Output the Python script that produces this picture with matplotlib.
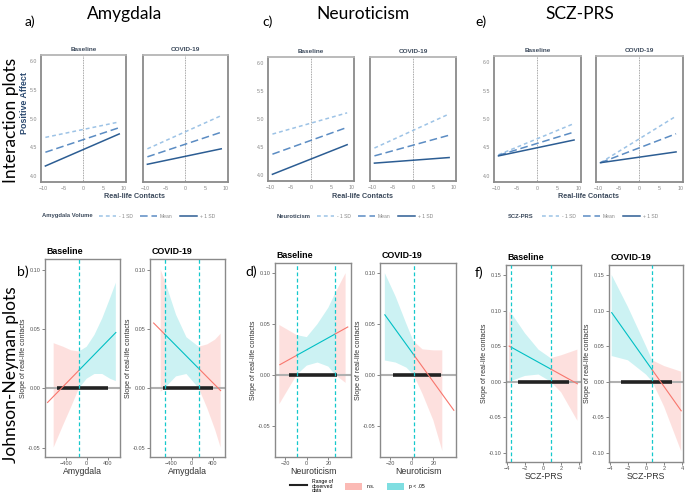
import numpy as np
import matplotlib
matplotlib.use('Agg')
import matplotlib.pyplot as plt
from matplotlib.lines import Line2D
from matplotlib.patches import Patch

plt.rcParams['font.family'] = ['Liberation Sans', 'DejaVu Sans']

W, H = 685, 493

# ---- interaction plots: predicted positive affect at x = -9.5 and x = 9 ----
contacts = [-9.5, 9]
sd_levels = ['- 1 SD', 'Mean', '+ 1 SD']
int_amyg_base = {'- 1 SD': [4.67, 4.94], 'Mean': [4.41, 4.84], '+ 1 SD': [4.17, 4.73]}
int_amyg_covid = {'- 1 SD': [4.47, 5.05], 'Mean': [4.33, 4.76], '+ 1 SD': [4.20, 4.47]}
int_neur_base = {'- 1 SD': [4.73, 5.11], 'Mean': [4.37, 4.85], '+ 1 SD': [4.01, 4.54]}
int_neur_covid = {'- 1 SD': [4.48, 5.09], 'Mean': [4.34, 4.71], '+ 1 SD': [4.21, 4.31]}
int_scz_base = {'- 1 SD': [4.37, 4.92], 'Mean': [4.36, 4.77], '+ 1 SD': [4.35, 4.63]}
int_scz_covid = {'- 1 SD': [4.23, 5.05], 'Mean': [4.23, 4.74], '+ 1 SD': [4.23, 4.42]}

# ---- Johnson-Neyman plots ----
# amygdala
jn_amyg_base_x = [-634, -450, -300, -146, 0, 150, 300, 450, 560]
jn_amyg_base_lo = [-0.050, -0.031, -0.016, 0.000, 0.008, 0.012, 0.012, 0.008, 0.006]
jn_amyg_base_hi = [0.038, 0.035, 0.032, 0.031, 0.035, 0.045, 0.059, 0.076, 0.089]
jn_amyg_base_line = ([-751, 560], [-0.012, 0.047])
jn_amyg_base_cut = [-146]
jn_amyg_base_sig = [(-146, 560)]
jn_amyg_base_obs = [-575, 400]

jn_amyg_covid_x = [-595, -517, -300, -100, 136, 300, 450, 556]
jn_amyg_covid_lo = [-0.003, 0.000, 0.010, 0.012, 0.000, -0.017, -0.035, -0.050]
jn_amyg_covid_hi = [0.100, 0.091, 0.062, 0.043, 0.035, 0.037, 0.041, 0.046]
jn_amyg_covid_line = ([-730, 556], [0.055, -0.002])
jn_amyg_covid_cut = [-517, 136]
jn_amyg_covid_sig = [(-517, 136)]
jn_amyg_covid_obs = [-556, 400]

# neuroticism
jn_neur_base_x = [-25.5, -9.2, 0, 10, 20, 26.2, 36]
jn_neur_base_lo = [-0.029, 0.000, 0.009, 0.012, 0.008, 0.000, -0.008]
jn_neur_base_hi = [0.049, 0.039, 0.037, 0.050, 0.066, 0.080, 0.100]
jn_neur_base_line = ([-25, 38], [0.0099, 0.047])
jn_neur_base_cut = [-9.2, 26.2]
jn_neur_base_sig = [(-9.2, 26.2)]
jn_neur_base_obs = [-16.3, 27.7]

jn_neur_covid_x = [-25, -15, -5, 1.6, 10, 20, 28.3]
jn_neur_covid_lo = [0.014, 0.012, 0.007, 0.000, -0.019, -0.045, -0.075]
jn_neur_covid_hi = [0.100, 0.077, 0.050, 0.033, 0.025, 0.024, 0.024]
jn_neur_covid_line = ([-25, 39], [0.059, -0.035])
jn_neur_covid_cut = [1.6]
jn_neur_covid_sig = [(-25, 1.6)]
jn_neur_covid_obs = [-17.8, 27]

# SCZ-PRS
jn_scz_base_x = [-3.75, -3.5, -2, -0.5, 0.85, 2, 3.8]
jn_scz_base_lo = [0.000, 0.001, 0.008, 0.010, 0.000, -0.015, -0.055]
jn_scz_base_hi = [0.098, 0.096, 0.068, 0.045, 0.033, 0.037, 0.045]
jn_scz_base_line = ([-3.75, 3.8], [0.050, -0.003])
jn_scz_base_cut = [-3.5, 0.85]
jn_scz_base_sig = [(-3.5, 0.85)]
jn_scz_base_obs = [-2.8, 2.9]

jn_scz_covid_x = [-3.8, -2, 0, 0.7, 2, 3.9]
jn_scz_covid_lo = [0.036, 0.030, 0.010, 0.000, -0.035, -0.098]
jn_scz_covid_hi = [0.150, 0.105, 0.050, 0.030, 0.022, 0.014]
jn_scz_covid_line = ([-3.8, 3.9], [0.097, -0.041])
jn_scz_covid_cut = [0.7]
jn_scz_covid_sig = [(-3.8, 0.7)]
jn_scz_covid_obs = [-2.8, 2.9]

sd_colors = {'- 1 SD': '#9dc3e6', 'Mean': '#5b8cc3', '+ 1 SD': '#2c5d93'}
sd_dash = {'- 1 SD': (0, (2.5, 2)), 'Mean': (0, (5, 2.5)), '+ 1 SD': '-'}
RED = '#F8766D'
TEAL = '#00BFC4'
TXT = '#3c4a5c'

fig = plt.figure(figsize=(6.85, 4.93), dpi=100)


def ax_px(x0, y0, x1, y1):
    return fig.add_axes([x0 / W, 1 - y1 / H, (x1 - x0) / W, (y1 - y0) / H])


def fx(x):
    return x / W


def fy(y):
    return 1 - y / H


def interaction_panel(box, data, title, show_y):
    ax = ax_px(*box)
    ax.axvline(0, color='#888888', lw=0.6, ls=(0, (1, 1)))
    for lev in sd_levels:
        ax.plot(contacts, data[lev], color=sd_colors[lev], ls=sd_dash[lev], lw=1.1)
    ax.set_xlim(-10.6, 10.7)
    ax.set_ylim(3.89, 6.11)
    ax.set_xticks([-10, -5, 0, 5, 10])
    ax.set_yticks([4.0, 4.5, 5.0, 5.5, 6.0])
    ax.set_yticklabels(['4.0', '4.5', '5.0', '5.5', '6.0'] if show_y else [])
    ax.tick_params(labelsize=3.8, colors='#888888', length=0, pad=3)
    for s in ax.spines.values():
        s.set_color('#8a8a8a')
        s.set_linewidth(1.3)
    ax.spines['top'].set_color('#b5b5b5')
    ax.set_title(title, fontsize=4.6, fontweight='bold', color=TXT, pad=3)
    return ax


def jn_panel(box, px, lo, hi, line, cuts, sig, obs, xlim, ylim, xticks, yticks, xlabel, title):
    ax = ax_px(*box)
    px = np.array(px, dtype=float)
    lo = np.array(lo)
    hi = np.array(hi)
    for a, b in sig:
        m = (px >= a) & (px <= b)
        ax.fill_between(px[m], lo[m], hi[m], facecolor=TEAL, alpha=0.2, lw=0)
    # non-significant parts of the band
    segs = []
    cur = []
    for i, xv in enumerate(px):
        if any(a < xv < b for a, b in sig):
            if len(cur) > 1:
                segs.append(cur)
            cur = []
        else:
            cur.append(i)
    if len(cur) > 1:
        segs.append(cur)
    for idx in segs:
        ax.fill_between(px[idx], lo[idx], hi[idx], facecolor=RED, alpha=0.22, lw=0)
    ax.axhline(0, color='#b0b0b0', lw=1.5, zorder=1)
    ax.plot(obs, [0, 0], color='#222222', lw=2.6, zorder=3, solid_capstyle='butt')
    # slope line coloured by significance
    lx = np.array(line[0], dtype=float)
    ly = np.array(line[1], dtype=float)
    k = (ly[1] - ly[0]) / (lx[1] - lx[0])
    pts = sorted(set([lx[0], lx[1]] + [c for c in cuts if lx[0] < c < lx[1]]))
    for a, b in zip(pts[:-1], pts[1:]):
        mid = (a + b) / 2
        col = TEAL if any(s0 <= mid <= s1 for s0, s1 in sig) else RED
        ax.plot([a, b], [ly[0] + k * (a - lx[0]), ly[0] + k * (b - lx[0])],
                color=col, lw=0.8, zorder=4)
    for c in cuts:
        ax.plot([c, c], list(ylim), color='#14c8cc', lw=0.9, ls=(0, (3, 2)), zorder=5)
    ax.set_xlim(*xlim)
    ax.set_ylim(*ylim)
    ax.set_xticks(xticks)
    ax.set_yticks(yticks)
    ax.set_yticklabels(['%.2f' % v for v in yticks])
    ax.tick_params(labelsize=4.0, colors='#555555', length=2, width=0.5, pad=1.2)
    for s in ax.spines.values():
        s.set_color('#8a8a8a')
        s.set_linewidth(1.0)
    ax.set_xlabel(xlabel, fontsize=6.3, color='#333333', labelpad=0.6)
    ax.set_ylabel('Slope of real-life contacts', fontsize=5.0, color='#333333', labelpad=0.8)
    ax.text(0.02, 1.015, title, transform=ax.transAxes, fontsize=6.4, fontweight='bold',
            ha='left', va='bottom')
    return ax


# top row
interaction_panel((41, 55, 126, 182), int_amyg_base, 'Baseline', True)
interaction_panel((143, 55, 228, 182), int_amyg_covid, 'COVID-19', False)
interaction_panel((268, 57, 354, 181), int_neur_base, 'Baseline', True)
interaction_panel((370, 57, 456, 181), int_neur_covid, 'COVID-19', False)
interaction_panel((494, 56, 581, 182), int_scz_base, 'Baseline', True)
interaction_panel((596, 56, 683, 182), int_scz_covid, 'COVID-19', False)

for xc, yc in [(135, 197), (362, 197), (589, 197)]:
    fig.text(fx(xc), fy(yc), 'Real-life Contacts', fontsize=5.2, fontweight='bold',
             color=TXT, ha='center', va='center')

fig.text(fx(25), fy(103), 'Positive Affect', rotation=90, fontsize=6.4, fontweight='bold',
         color='#2c4a70', ha='center', va='center')

handles = [Line2D([0], [0], color=sd_colors[l], ls=sd_dash[l], lw=1.1) for l in sd_levels]
for name, xname, xleg in [('Amygdala Volume', 42, 99), ('Neuroticism', 277, 317),
                          ('SCZ-PRS', 508, 542)]:
    fig.text(fx(xname), fy(216), name, fontsize=4.2, fontweight='bold', color=TXT,
             ha='left', va='center')
    fig.legend(handles, sd_levels, loc='center left', bbox_to_anchor=(fx(xleg), fy(216)),
               ncol=3, frameon=False, fontsize=3.6, handlelength=3.4, columnspacing=1.4,
               handletextpad=0.6, labelcolor='#888888', borderaxespad=0, borderpad=0)

# bottom row
jn_panel((45, 259, 120, 457), jn_amyg_base_x, jn_amyg_base_lo, jn_amyg_base_hi,
         jn_amyg_base_line, jn_amyg_base_cut, jn_amyg_base_sig, jn_amyg_base_obs,
         (-800, 640), (-0.058, 0.109), [-400, 0, 400], [-0.05, 0.0, 0.05, 0.10],
         'Amygdala', 'Baseline')
jn_panel((150, 259, 225, 457), jn_amyg_covid_x, jn_amyg_covid_lo, jn_amyg_covid_hi,
         jn_amyg_covid_line, jn_amyg_covid_cut, jn_amyg_covid_sig, jn_amyg_covid_obs,
         (-800, 640), (-0.058, 0.109), [-400, 0, 400], [-0.05, 0.0, 0.05, 0.10],
         'Amygdala', 'COVID-19')
jn_panel((275, 263, 351, 457), jn_neur_base_x, jn_neur_base_lo, jn_neur_base_hi,
         jn_neur_base_line, jn_neur_base_cut, jn_neur_base_sig, jn_neur_base_obs,
         (-29.5, 41), (-0.081, 0.110), [-20, 0, 20], [-0.05, 0.0, 0.05, 0.10],
         'Neuroticism', 'Baseline')
jn_panel((380, 263, 456, 457), jn_neur_covid_x, jn_neur_covid_lo, jn_neur_covid_hi,
         jn_neur_covid_line, jn_neur_covid_cut, jn_neur_covid_sig, jn_neur_covid_obs,
         (-29.5, 41), (-0.081, 0.110), [-20, 0, 20], [-0.05, 0.0, 0.05, 0.10],
         'Neuroticism', 'COVID-19')
jn_panel((506, 265, 581, 462), jn_scz_base_x, jn_scz_base_lo, jn_scz_base_hi,
         jn_scz_base_line, jn_scz_base_cut, jn_scz_base_sig, jn_scz_base_obs,
         (-4.1, 4.2), (-0.113, 0.164), [-4, -2, 0, 2, 4],
         [-0.10, -0.05, 0.0, 0.05, 0.10, 0.15], 'SCZ-PRS', 'Baseline')
jn_panel((609, 265, 683, 462), jn_scz_covid_x, jn_scz_covid_lo, jn_scz_covid_hi,
         jn_scz_covid_line, jn_scz_covid_cut, jn_scz_covid_sig, jn_scz_covid_obs,
         (-4.1, 4.1), (-0.113, 0.164), [-4, -2, 0, 2, 4],
         [-0.10, -0.05, 0.0, 0.05, 0.10, 0.15], 'SCZ-PRS', 'COVID-19')

# bottom legend
leg_handles = [Line2D([0], [0], color='#222222', lw=1.5),
               Patch(facecolor=RED, alpha=0.5, lw=0),
               Patch(facecolor=TEAL, alpha=0.5, lw=0)]
leg = fig.legend(leg_handles, ['Range of\nobserved\ndata', 'n.s.', 'p < .05'],
                 loc='center left', bbox_to_anchor=(fx(290), fy(486)), ncol=3, frameon=False,
                 fontsize=3.7, handlelength=3.3, handleheight=1.7, columnspacing=2.2,
                 handletextpad=1.0, borderaxespad=0, borderpad=0)
for t in leg.get_texts():
    t.set_linespacing(0.85)

# headings
big = ['Lato', 'DejaVu Sans']
for txt, xc in [('Amygdala', 125), ('Neuroticism', 363), ('SCZ-PRS', 580)]:
    fig.text(fx(xc), fy(14), txt, fontsize=12.5, family=big, ha='center', va='center')
for lab, xx, yy in [('a)', 25, 22), ('c)', 262, 22), ('e)', 475, 22),
                    ('b)', 17, 272), ('d)', 245, 272), ('f)', 475, 273)]:
    fig.text(fx(xx), fy(yy), lab, fontsize=10, family=big, ha='left', va='center')
fig.text(fx(11), fy(120), 'Interaction plots', rotation=90, fontsize=12.5, family=big,
         ha='center', va='center')
fig.text(fx(11), fy(375), 'Johnson-Neyman plots', rotation=90, fontsize=12.5, family=big,
         ha='center', va='center')

fig.savefig('out.png', dpi=100)
